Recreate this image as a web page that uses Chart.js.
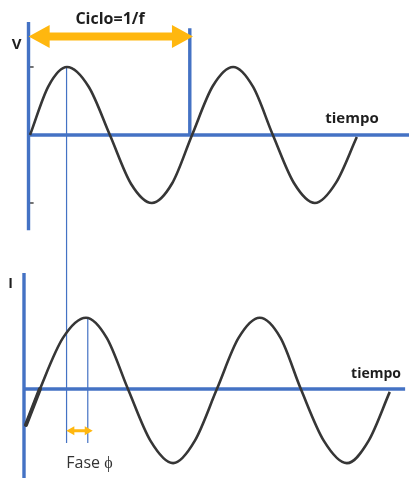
<!DOCTYPE html>
<html>
<head>
<meta charset="utf-8">
<script src="https://cdn.jsdelivr.net/npm/chart.js@4"></script>
<style>
  html, body { margin: 0; padding: 0; background: #ffffff; }
  #wrap { position: relative; width: 409px; height: 478px; }
  canvas { display: block; }
</style>
</head>
<body>
<div id="wrap"><canvas id="c" width="409" height="478"></canvas></div>
<script>
// ---- data (x in degrees of the V wave's phase) ----
const vDeg = [0, 41, 82, 130, 177, 224, 270, 315, 359, 405, 450, 494, 538, 585, 631, 678, 724];
const vVal = [0, 0.72, 1.0, 0.71, 0, -0.72, -1.0, -0.71, 0, 0.72, 1.0, 0.71, 0, -0.71, -1.0, -0.70, -0.03];
const iDeg = [-9, 22, 73, 124, 170, 217, 267, 317, 365, 414, 462, 509, 555, 600, 651, 702, 750, 797];
const iVal = [-0.5, 0, 0.71, 0.99, 0.71, 0, -0.72, -1.03, -0.72, 0, 0.71, 0.99, 0.71, 0, -0.72, -1.03, -0.72, -0.04];
const cycleDeg = [-3, 358];      // span of "Ciclo=1/f"
const phaseDeg = [81, 128];      // V peak, I peak
const vTicks = [1, -1];
const textLabels = ['Ciclo=1/f', 'V', 'tiempo', 'I', 'tiempo', 'Fase ϕ'];

const BLUE = '#4472C4';
const ORANGE = '#FFB70F';
const WAVE = '#363636';

const pts = (xs, ys) => xs.map((x, i) => ({ x, y: ys[i] }));

const datasets = [
  { data: pts(vDeg, vVal), yAxisID: 'yV', borderColor: WAVE, borderWidth: 2.6, cubicInterpolationMode: 'monotone', order: 0 },
  { data: pts(iDeg, iVal), yAxisID: 'yI', borderColor: WAVE, borderWidth: 2.6, cubicInterpolationMode: 'monotone', order: 0 },
  // axes (blue)
  { data: [{ x: -3.3, y: 1.66 }, { x: -3.3, y: -1.40 }], yAxisID: 'yV', borderColor: BLUE, borderWidth: 3.4, order: 1 },
  { data: [{ x: -3.3, y: 0 }, { x: 840, y: 0 }], yAxisID: 'yV', borderColor: BLUE, borderWidth: 3.4, order: 1 },
  { data: [{ x: cycleDeg[1] - 4, y: 1.57 }, { x: cycleDeg[1] - 4, y: 0 }], yAxisID: 'yV', borderColor: BLUE, borderWidth: 3.4, order: 1 },
  { data: [{ x: -13.3, y: 1.61 }, { x: -13.3, y: -1.3 }], yAxisID: 'yI', borderColor: BLUE, borderWidth: 3.4, order: 1 },
  { data: [{ x: -15.5, y: 0 }, { x: 831, y: 0 }], yAxisID: 'yI', borderColor: BLUE, borderWidth: 3.4, order: 1 }
].map(d => Object.assign({ showLine: true, pointRadius: 0, fill: false, tension: 0, clip: false }, d));

function arrow(ctx, x1, x2, y, shaft, headLen, headHalf, color) {
  ctx.fillStyle = color;
  ctx.beginPath();
  ctx.moveTo(x1, y);
  ctx.lineTo(x1 + headLen, y - headHalf);
  ctx.lineTo(x1 + headLen, y - shaft / 2);
  ctx.lineTo(x2 - headLen, y - shaft / 2);
  ctx.lineTo(x2 - headLen, y - headHalf);
  ctx.lineTo(x2, y);
  ctx.lineTo(x2 - headLen, y + headHalf);
  ctx.lineTo(x2 - headLen, y + shaft / 2);
  ctx.lineTo(x1 + headLen, y + shaft / 2);
  ctx.lineTo(x1 + headLen, y + headHalf);
  ctx.closePath();
  ctx.fill();
}

const overlay = {
  id: 'overlay',
  beforeDatasetsDraw(chart) {
    const { ctx, scales: { x, yV, yI } } = chart;
    ctx.save();
    // thin phase lines
    ctx.strokeStyle = BLUE;
    ctx.lineWidth = 1.2;
    const px1 = x.getPixelForValue(phaseDeg[0]);
    ctx.beginPath();
    ctx.moveTo(px1, yV.getPixelForValue(1.0));
    ctx.lineTo(px1, yI.getPixelForValue(-0.75));
    ctx.stroke();
    const px2 = x.getPixelForValue(phaseDeg[1]);
    ctx.beginPath();
    ctx.moveTo(px2, yI.getPixelForValue(0.99));
    ctx.lineTo(px2, yI.getPixelForValue(-0.75));
    ctx.stroke();
    // small ticks on V axis
    ctx.strokeStyle = '#444';
    ctx.lineWidth = 1.5;
    vTicks.forEach(t => {
      const py = yV.getPixelForValue(t);
      ctx.beginPath();
      ctx.moveTo(x.getPixelForValue(-3.3), py);
      ctx.lineTo(x.getPixelForValue(8), py);
      ctx.stroke();
    });
    ctx.restore();
  },
  afterDatasetsDraw(chart) {
    const { ctx, scales: { x, yV, yI } } = chart;
    ctx.save();
    // thicker start of the I wave
    ctx.strokeStyle = WAVE;
    ctx.lineWidth = 4;
    ctx.lineCap = 'round';
    ctx.beginPath();
    ctx.moveTo(x.getPixelForValue(iDeg[0]), yI.getPixelForValue(iVal[0]));
    ctx.lineTo(x.getPixelForValue(iDeg[1]), yI.getPixelForValue(iVal[1]));
    ctx.stroke();
    // cycle arrow
    arrow(ctx, x.getPixelForValue(cycleDeg[0]), x.getPixelForValue(cycleDeg[1] + 3), yV.getPixelForValue(1.45), 8, 21, 11.5, ORANGE);
    // phase arrow
    arrow(ctx, x.getPixelForValue(phaseDeg[0] - 0.5), x.getPixelForValue(phaseDeg[1] + 11), yI.getPixelForValue(-0.58), 3, 8, 4.5, ORANGE);
    // texts
    ctx.textAlign = 'center';
    ctx.textBaseline = 'middle';
    ctx.fillStyle = '#1e1e1e';
    ctx.font = 'bold 16px "Open Sans"';
    ctx.fillText(textLabels[0], 110, 19);
    ctx.font = 'bold 15px "Open Sans"';
    ctx.fillText(textLabels[1], 16.5, 45);
    ctx.font = 'bold 15px "Open Sans"';
    ctx.fillText(textLabels[2], 352, 119);
    ctx.font = 'bold 14px "Open Sans"';
    ctx.fillText(textLabels[3], 10.5, 284);
    ctx.font = 'bold 14px "Open Sans"';
    ctx.fillText(textLabels[4], 376, 374);
    ctx.fillStyle = '#333';
    ctx.font = '16px "Open Sans"';
    ctx.fillText(textLabels[5], 89.5, 463);
    ctx.restore();
  }
};

new Chart(document.getElementById('c'), {
  type: 'scatter',
  data: { datasets },
  options: {
    responsive: false,
    devicePixelRatio: 1,
    animation: false,
    events: [],
    layout: { padding: 0 },
    plugins: { legend: { display: false }, tooltip: { enabled: false } },
    scales: {
      x: { type: 'linear', display: false, min: -66.46, max: 839.6 },
      yV: { type: 'linear', display: false, position: 'left', min: -5.044, max: 1.985 },
      yI: { type: 'linear', display: false, position: 'left', min: -1.236, max: 5.403 }
    }
  },
  plugins: [overlay]
});
</script>
</body>
</html>
